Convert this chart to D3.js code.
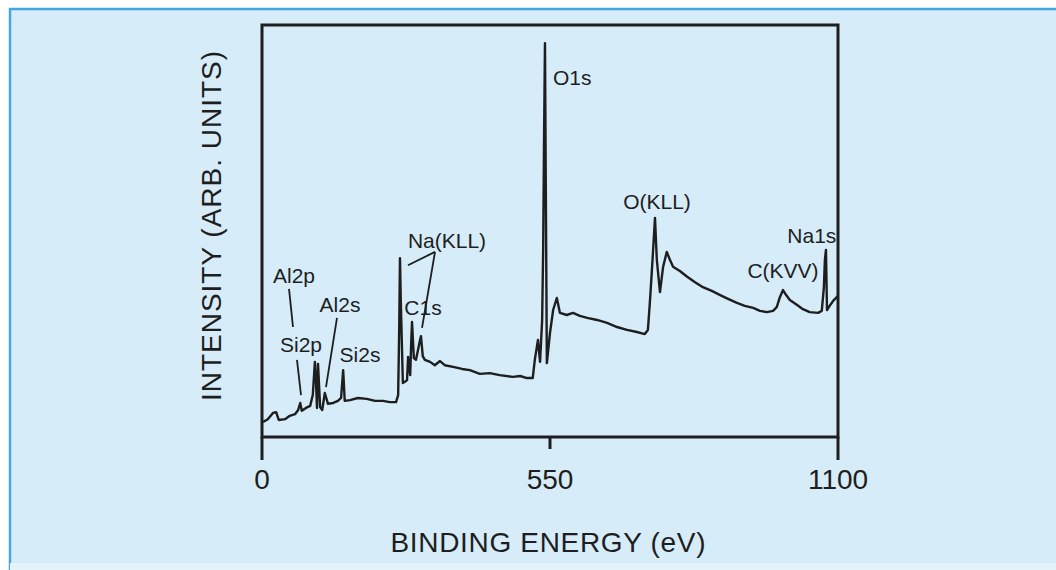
<!DOCTYPE html>
<html lang="en">
<head>
<meta charset="UTF-8">
<title>XPS survey spectrum</title>
<style>
body { margin: 0; background: #fff; }
text { font-family: "Liberation Sans", Arial, sans-serif; fill: #1e1e1e; }
.peak { font-size: 21px; }
.tick-label { font-size: 28px; }
.axis-title { font-size: 28px; }
.frame { fill: none; stroke: #1e1e1e; stroke-width: 3px; }
.spectrum { fill: none; stroke: #1e1e1e; stroke-width: 2.4px; stroke-linejoin: round; }
.leader { stroke: #1e1e1e; stroke-width: 1.8px; }
</style>
</head>
<body>
<div id="chart"></div>
<script src="https://cdnjs.cloudflare.com/ajax/libs/d3/7.8.5/d3.min.js"></script>
<script>

// binding energy (eV) and intensity (arb. units)
let energy = [
  2, 11, 21, 27, 32, 44, 53, 63, 69, 73, 76, 84, 92, 97, 101, 103, 105, 107, 111, 115,
  120, 126, 136, 145, 151, 155, 158, 168, 183, 200, 216, 231, 244, 256, 260, 262, 263.5, 265, 269, 273,
  277, 279, 283, 285, 286.5, 290, 294, 298, 302, 303.6, 307, 311, 321, 330, 340, 349, 365, 382, 397, 416,
  435, 454, 479, 493, 506, 517, 521, 524, 527, 531, 535, 537, 538.5, 540.4, 542, 544, 550, 556, 563, 569,
  582, 594, 607, 621, 640, 659, 678, 697, 716, 731, 737, 741, 745, 750.5, 754, 760, 766, 773, 779, 785,
  798, 812, 827, 842, 859, 875, 890, 907, 922, 938, 951, 964, 976, 983, 989, 995, 1001, 1008, 1022, 1033,
  1046, 1062, 1069, 1073, 1075, 1077, 1079, 1084, 1092, 1100
];
let intensity = [
  3.6, 4.3, 5.8, 6.0, 4.1, 4.3, 5.1, 5.5, 6.5, 8.2, 6.3, 7.0, 7.5, 10.1, 18.1, 13.7, 7.0, 17.6, 7.2, 6.5,
  10.6, 8.0, 8.2, 8.7, 9.4, 16.1, 8.7, 8.9, 9.4, 9.2, 8.7, 8.7, 8.4, 8.4, 10.1, 25.8, 43.1, 33.0, 13.0, 13.3,
  13.7, 19.3, 14.9, 23.0, 27.7, 19.0, 18.6, 21.0, 23.5, 24.3, 19.5, 18.6, 18.1, 17.3, 18.3, 17.3, 16.9, 16.4, 16.1, 15.2,
  15.4, 14.9, 14.5, 14.7, 14.2, 14.2, 18.6, 21.0, 23.4, 18.1, 28.2, 45.8, 70.0, 94.9, 60.0, 17.8, 25.1, 30.6, 33.5, 29.9,
  29.4, 29.9, 29.2, 28.7, 28.2, 27.5, 26.5, 25.8, 25.3, 24.8, 25.8, 33.0, 41.0, 52.8, 42.7, 34.9, 41.0, 44.6, 42.7, 41.0,
  40.0, 38.6, 37.3, 36.1, 35.2, 34.2, 33.3, 32.3, 31.6, 31.1, 30.4, 30.1, 30.4, 31.3, 33.7, 35.4, 34.2, 33.0, 31.8, 30.8,
  30.1, 29.9, 30.4, 36.0, 42.7, 45.1, 30.6, 31.6, 33.0, 34.0
];

let xTicks = [0, 550, 1100];
let xTickLength = [23, 12, 23];

// peak labels: text, energy, intensity of the baseline, anchor
let peakNames = ["O1s", "O(KLL)", "Na(KLL)", "C1s", "Al2p", "Si2p", "Al2s", "Si2s", "C(KVV)", "Na1s"];
let peakLabelE = [555.7, 754.3, 353.3, 307.5, 61.1, 74.5, 149, 187.1, 995, 1050];
let peakLabelI = [84.8, 54.9, 45.5, 29.4, 37.1, 20.5, 30.1, 18.1, 38.3, 46.7];
let peakAnchor = ["start", "middle", "middle", "middle", "middle", "middle", "middle", "middle", "middle", "middle"];

// leader lines from label to peak: [e1, i1, e2, i2]
let leaders = [
  [51.6, 35.7, 59.2, 26.5],
  [66.8, 18.6, 74.5, 10.1],
  [143.2, 28.7, 122.2, 12.0],
  [330.4, 44.6, 278.8, 41.4],
  [330.4, 44.6, 305.6, 26.3]
];

const W = 1056, H = 570;
const margin = { top: 25, left: 262, right: 218, bottom: 133 };

const svg = d3.select('#chart').append('svg')
    .attr('width', W)
    .attr('height', H);

// light blue panel with its border
svg.append('rect')
    .attr('x', 0).attr('y', 0).attr('width', W).attr('height', H)
    .attr('fill', '#fff');
svg.append('rect')
    .attr('x', 10).attr('y', 9).attr('width', W).attr('height', 554)
    .attr('fill', '#d6ecf9');
svg.append('path')
    .attr('d', 'M10,' + H + 'V9H' + W)
    .attr('fill', 'none')
    .attr('stroke', '#45a6de')
    .attr('stroke-width', 2.5);
svg.append('rect')
    .attr('x', 10).attr('y', 563).attr('width', W).attr('height', 7)
    .attr('fill', '#e4f3fb');

const x = d3.scaleLinear()
    .domain([0, 1100])
    .range([margin.left, W - margin.right]);
const y = d3.scaleLinear()
    .domain([0, 100])
    .range([H - margin.bottom, 22]);
const y0 = y(0);

// frame
svg.append('path')
    .attr('class', 'frame')
    .attr('d', 'M' + x(0) + ',' + y0 + 'V' + margin.top + 'H' + x(1100) + 'V' + y0 + 'Z');

// x axis ticks and labels
const xAxis = svg.append('g');
xAxis.selectAll('line')
    .data(xTicks)
    .enter().append('line')
    .attr('x1', d => x(d)).attr('x2', d => x(d))
    .attr('y1', y0)
    .attr('y2', (d, i) => y0 + xTickLength[i])
    .attr('stroke', '#1e1e1e')
    .attr('stroke-width', 3);
xAxis.selectAll('text')
    .data(xTicks)
    .enter().append('text')
    .attr('class', 'tick-label')
    .attr('x', d => x(d))
    .attr('y', 489)
    .attr('text-anchor', 'middle')
    .text(d => d);

svg.append('text')
    .attr('class', 'axis-title')
    .attr('x', 548)
    .attr('y', 552)
    .attr('text-anchor', 'middle')
    .attr('textLength', 315)
    .attr('lengthAdjust', 'spacing')
    .text('BINDING ENERGY (eV)');

svg.append('text')
    .attr('class', 'axis-title')
    .attr('transform', 'translate(221,226) rotate(-90)')
    .attr('text-anchor', 'middle')
    .attr('textLength', 350)
    .attr('lengthAdjust', 'spacing')
    .text('INTENSITY (ARB. UNITS)');

// spectrum
const points = energy.map((e, i) => [e, intensity[i]]);
const line = d3.line()
    .x(d => x(d[0]))
    .y(d => y(d[1]));
svg.append('path')
    .datum(points)
    .attr('class', 'spectrum')
    .attr('d', line);

// annotations
svg.selectAll('line.leader')
    .data(leaders)
    .enter().append('line')
    .attr('class', 'leader')
    .attr('x1', d => x(d[0])).attr('y1', d => y(d[1]))
    .attr('x2', d => x(d[2])).attr('y2', d => y(d[3]));

svg.selectAll('text.peak')
    .data(peakNames)
    .enter().append('text')
    .attr('class', 'peak')
    .attr('x', (d, i) => x(peakLabelE[i]))
    .attr('y', (d, i) => y(peakLabelI[i]))
    .attr('text-anchor', (d, i) => peakAnchor[i])
    .text(d => d);
</script>
</body>
</html>
